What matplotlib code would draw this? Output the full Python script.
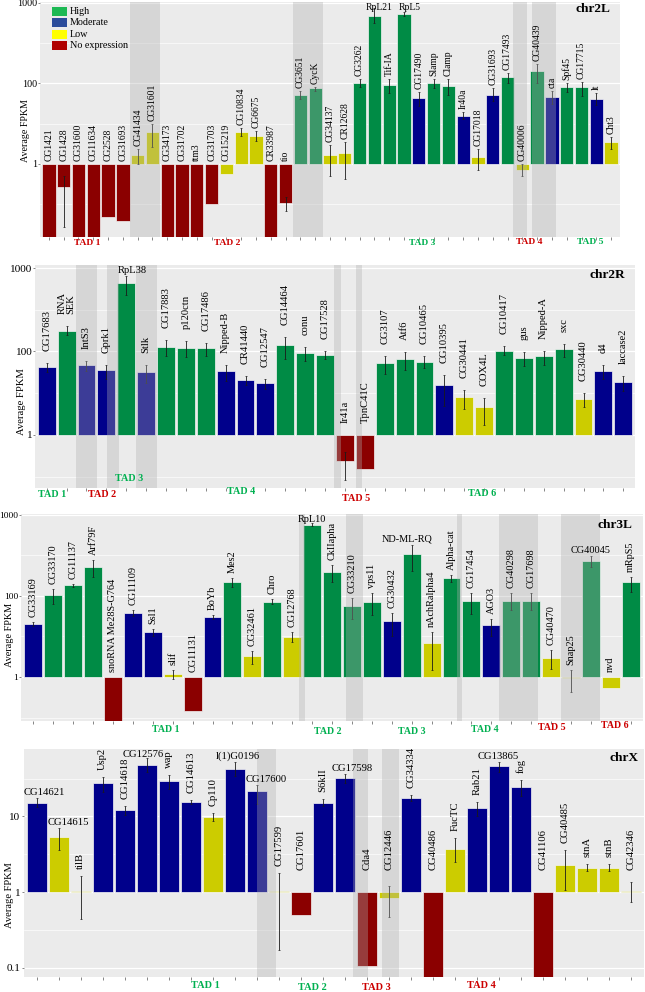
import numpy as np
import matplotlib
matplotlib.use("Agg")
import matplotlib.pyplot as plt
from matplotlib.patches import Rectangle
from matplotlib.transforms import blended_transform_factory

plt.rcParams['font.family'] = ['Liberation Serif', 'DejaVu Serif']

nan = np.nan

# ---------------- data ----------------
# chr2L / chr2R / chr3L heights are in axis units (tick "1" = 0, "100" = 1, "1000" = 2)
genes_2L = ["CG1421", "CG1428", "CG31600", "CG11634", "CG2528", "CG31693", "CG41434", "CG31601",
            "CG34173", "CG31702", "ttm3", "CG31703", "CG15219", "CG10834", "CG6675", "CR33987", "tio",
            "CG3651", "CycK", "CG34137", "CR12628", "CG3262", "RpL21", "Tif-IA", "RpL5", "CG17490",
            "Slamp", "Clamp", "Ir40a", "CG17018", "CG31693", "CG17493", "CG40006", "CG40439", "cta",
            "Spf45", "CG17715", "lt", "Cht3"]
level_2L = ["N", "N", "N", "N", "N", "N", "L", "L", "N", "N", "N", "N", "L", "L", "L", "N", "N",
            "H", "H", "L", "L", "H", "H", "H", "H", "M", "H", "H", "M", "L", "M", "H", "L", "H", "M",
            "H", "H", "M", "L"]
val_2L = [-1, -0.29, -1, -1, -0.66, -0.71, 0.11, 0.40, -1, -1, -1, -0.50, -0.12, 0.40, 0.35, -1, -0.48,
          0.86, 0.94, 0.11, 0.13, 1.01, 1.84, 0.98, 1.86, 0.82, 1.00, 0.97, 0.60, 0.08, 0.86, 1.08, -0.07,
          1.15, 0.83, 0.95, 0.95, 0.81, 0.27]
hi_2L = [nan, -0.15, nan, nan, nan, nan, 0.19, 0.50, nan, nan, nan, nan, nan, 0.45, 0.41, nan, -0.41,
         0.91, 0.96, 0.24, 0.27, 1.06, 1.94, 1.05, 1.89, 0.89, 1.05, 1.05, 0.65, 0.18, 0.94, 1.13, 0.0,
         1.24, 0.90, 1.00, 1.02, 0.88, 0.34]
lo_2L = [nan, -0.78, nan, nan, nan, nan, 0.0, 0.21, nan, nan, nan, nan, nan, 0.35, 0.29, nan, -0.59,
         0.81, 0.90, -0.15, -0.19, 0.95, 1.75, 0.88, 1.84, 0.72, 0.94, 0.86, 0.56, -0.08, 0.78, 1.01, -0.15,
         1.01, 0.75, 0.89, 0.84, 0.73, 0.19]

genes_2R = ["CG17683", "RNA\nSEK", "IntS3", "Gprk1", "RpL38", "Stlk", "CG17883", "p120ctn", "CG17486",
            "Nipped-B", "CR41440", "CG12547", "CG14464", "conu", "CG17528", "Ir41a", "TpnC41C", "CG3107",
            "Atf6", "CG10465", "CG10395", "CG30441", "COX4L", "CG10417", "gus", "Nipped-A", "sxc",
            "CG30440", "d4", "laccase2"]
level_2R = ["M", "H", "M", "M", "H", "M", "H", "H", "H", "M", "M", "M", "H", "H", "H", "N", "N", "H",
            "H", "H", "M", "L", "L", "H", "H", "H", "H", "L", "M", "M"]
val_2R = [0.81, 1.25, 0.84, 0.78, 1.82, 0.76, 1.05, 1.04, 1.04, 0.77, 0.66, 0.62, 1.08, 0.98, 0.96,
          -0.31, -0.41, 0.86, 0.91, 0.87, 0.60, 0.45, 0.34, 1.00, 0.92, 0.95, 1.03, 0.43, 0.77, 0.63]
hi_2R = [0.86, 1.31, 0.89, 0.84, 1.90, 0.84, 1.14, 1.12, 1.10, 0.84, 0.71, 0.67, 1.17, 1.05, 1.01,
         -0.20, nan, 0.95, 0.99, 0.95, 0.72, 0.54, 0.44, 1.06, 0.99, 1.01, 1.09, 0.50, 0.84, 0.71]
lo_2R = [0.75, 1.20, 0.77, 0.67, 1.68, 0.62, 0.95, 0.94, 0.95, 0.65, 0.60, 0.55, 0.91, 0.89, 0.91,
         -0.54, nan, 0.73, 0.78, 0.80, 0.35, 0.31, 0.12, 0.96, 0.83, 0.84, 0.93, 0.34, 0.67, 0.53]

genes_3L = ["CG33169", "CG33170", "CG11137", "Arf79F", "snoRNA Me28S-G764", "CG11109", "Ssl1", "slif",
            "CG11131", "BoYb", "Mes2", "CG32461", "Chro", "CG12768", "RpL10", "CkIIapha", "CG33210",
            "vps11", "CG30432", "ND-ML-RQ", "nAchRalpha4", "Alpha-cat", "CG17454", "AGO3", "CG40298",
            "CG17698", "CG40470", "Snap25", "CG40045", "nvd", "mRpS5"]
level_3L = ["M", "H", "H", "H", "N", "M", "M", "L", "N", "M", "H", "L", "H", "L", "H", "H", "H", "H",
            "M", "H", "L", "H", "H", "M", "H", "H", "L", "L", "H", "L", "H"]
val_3L = [0.65, 1.01, 1.13, 1.36, -1, 0.79, 0.56, 0.04, -0.42, 0.74, 1.17, 0.26, 0.93, 0.49, 1.88,
          1.30, 0.88, 0.93, 0.69, 1.52, 0.42, 1.22, 0.94, 0.64, 0.94, 0.94, 0.23, -0.012, 1.43, -0.14, 1.17]
hi_3L = [0.68, 1.09, 1.15, 1.44, nan, 0.83, 0.59, 0.09, nan, 0.76, 1.22, 0.32, 0.96, 0.55, 1.90,
         1.38, 0.98, 1.04, 0.79, 1.63, 0.55, 1.26, 1.04, 0.72, 1.03, 1.03, 0.33, 0.08, 1.49, nan, 1.23]
lo_3L = [0.63, 0.90, 1.11, 1.23, nan, 0.75, 0.50, -0.02, nan, 0.72, 1.11, 0.16, 0.90, 0.43, 1.86,
         1.17, 0.72, 0.77, 0.50, 1.31, 0.08, 1.17, 0.78, 0.50, 0.82, 0.82, 0.10, -0.19, 1.36, nan, 1.05]

# chrX values are Average FPKM (log10 axis)
genes_X = ["CG14621", "CG14615", "tilB", "Usp2", "CG14618", "CG12576", "wap", "CG14613", "Cp110",
           "l(1)G0196", "CG17600", "CG17599", "CG17601", "S6kII", "CG17598", "Cda4", "CG12446",
           "CG34334", "CG40486", "FucTC", "Rab21", "CG13865", "fog", "CG41106", "CG40485", "stnA",
           "stnB", "CG42346"]
level_X = ["M", "L", "L", "M", "M", "M", "M", "M", "L", "M", "M", "L", "N", "M", "M", "N", "L", "M",
           "N", "L", "M", "M", "M", "N", "L", "L", "L", "L"]
fpkm_X = [15.2, 5.3, 1.04, 27.5, 12.2, 48, 29.5, 15.7, 9.8, 42, 21.3, 1.02, 0.5, 15.2, 32, 0.104, 0.83,
          17.5, 0.05, 3.7, 12.9, 46.6, 24.4, 0.05, 2.3, 2.1, 2.1, 1.04]
hi_X = [17.5, 7.0, 1.64, 33, 13.8, 59, 35.5, 16.6, 11, 52, 26, 1.8, nan, 17, 36.6, nan, 1.21, 19.3,
        nan, 5.1, 15.7, 53, 30.4, nan, 3.6, 2.37, 2.37, 1.36]
lo_X = [13.1, 3.55, 0.44, 21, 10.5, 38, 23, 14.6, 8.8, 34.6, 14.7, 0.17, nan, 13.5, 27.5, nan, 0.47,
        15.8, nan, 2.5, 10.0, 38.5, 18.3, nan, 1.05, 1.87, 1.87, 0.74]

ytick_main = ["1", "100", "1000"]
ytick_x = ["0.1", "1", "10"]
legend_names = ["High", "Moderate", "Low", "No expression"]

# ---------------- styles ----------------
bar_col = {"H": "#008B45", "M": "#00008B", "L": "#CCCC00", "N": "#8B0000"}
legend_col = ["#1DB954", "#2B4C9B", "#FFFF00", "#B00000"]
RED, GREEN = "#CC0000", "#00B050"
# genes whose name is written horizontally, with a small sideways nudge (bar units)
horizontal = {"RpL21": 0.3, "RpL5": 0.4, "RpL38": 0.3, "RpL10": 0.0, "ND-ML-RQ": -0.25,
              "CG40045": 0.0, "CG14621": 0.35, "CG14615": 0.45, "CG12576": -0.15,
              "l(1)G0196": 0.15, "CG17600": 0.42, "CG17598": 0.33, "CG13865": 0.0}

W, H = 645, 992
fig = plt.figure(figsize=(W / 100, H / 100), dpi=100)


def fy(y):
    return 1 - y / H


panels = [
    dict(genes=genes_2L, level=level_2L, val=val_2L, hi=hi_2L, lo=lo_2L,
         box=(40, 2, 620, 237), ylim=(-0.907, 2.01), ticks=[0, 1, 2], tlab=ytick_main,
         fs=6.9, tfs=7.2, pad=3, minlab=None, name="chr2L", name_xy=(610, 9),
         ylab_xy=(26, 131), ylab_fs=7.2, tad_fs=6.8,
         bands=[(6.5, 8.5), (17.5, 19.5), (32.4, 33.3), (33.65, 35.3)],
         tads=[("TAD 1", 3.61, 243, RED), ("TAD 2", 13.04, 243, RED), ("TAD 3", 26.2, 243, GREEN),
               ("TAD 4", 33.47, 242, RED), ("TAD 5", 37.56, 242, GREEN)]),
    dict(genes=genes_2R, level=level_2R, val=val_2R, hi=hi_2R, lo=lo_2R,
         box=(34.8, 265, 635.2, 488), ylim=(-0.635, 2.036), ticks=[0, 1, 2], tlab=ytick_main,
         fs=7.6, tfs=8.2, pad=12, minlab=None, name="chr2R", name_xy=(625, 275),
         ylab_xy=(22, 402), ylab_fs=7.7, tad_fs=7.3,
         bands=[(2.47, 3.53), (4.04, 4.64), (5.5, 6.56), (15.45, 15.8), (16.56, 16.86)],
         tads=[("TAD 1", 1.25, 494, GREEN), ("TAD 2", 3.8, 494, RED), ("TAD 3", 5.14, 478, GREEN),
               ("TAD 4", 10.77, 492, GREEN), ("TAD 5", 16.56, 498, RED), ("TAD 6", 22.88, 493, GREEN)]),
    dict(genes=genes_3L, level=level_3L, val=val_3L, hi=hi_3L, lo=lo_3L,
         box=(21.4, 514, 642.6, 721), ylim=(-0.543, 2.01), ticks=[0, 1, 2], tlab=ytick_main,
         fs=7.4, tfs=6.8, pad=5, minlab=None, name="chr3L", name_xy=(632, 525),
         ylab_xy=(10, 635), ylab_fs=7.4, tad_fs=7.1,
         bands=[(14.34, 14.64), (16.7, 17.56), (22.28, 22.53), (24.39, 26.35), (27.5, 29.46)],
         tads=[("TAD 1", 7.66, 729, GREEN), ("TAD 2", 15.77, 731, GREEN), ("TAD 3", 20.02, 731, GREEN),
               ("TAD 4", 23.66, 729, GREEN), ("TAD 5", 27.03, 727, RED), ("TAD 6", 30.21, 725, RED)]),
    dict(genes=genes_X, level=level_X, val=np.log10(fpkm_X), hi=np.log10(hi_X), lo=np.log10(lo_X),
         box=(23.5, 749, 643.9, 977), ylim=(-1.123, 1.89), ticks=[-1, 0, 1], tlab=ytick_x,
         fs=7.7, tfs=8.0, pad=7, minlab=22, name="chrX", name_xy=(638, 758),
         ylab_xy=(10, 895), ylab_fs=7.6, tad_fs=7.5,
         bands=[(11.01, 11.88), (15.36, 16.05), (16.68, 17.48)],
         tads=[("TAD 1", 8.65, 986, GREEN), ("TAD 2", 13.54, 987, GREEN), ("TAD 3", 16.42, 987, RED),
               ("TAD 4", 21.21, 986, RED)]),
]

for p in panels:
    l, t, r, b = p["box"]
    ax = fig.add_axes([l / W, 1 - b / H, (r - l) / W, (b - t) / H])
    ax.set_facecolor("#EBEBEB")
    for s in ax.spines.values():
        s.set_visible(False)
    n = len(p["genes"])
    x = np.arange(1, n + 1)
    y0, y1 = p["ylim"]
    unit = (b - t) / (y1 - y0)  # pixels per axis unit

    minor = [v + 0.5 for v in [p["ticks"][0] - 1] + p["ticks"]]
    minor = [v for v in minor if y0 < v < y1]
    ax.set_yticks(p["ticks"])
    ax.set_yticklabels(p["tlab"], fontsize=p["tfs"])
    ax.set_yticks(minor, minor=True)
    ax.set_xticks(x)
    ax.set_xticklabels([])
    ax.tick_params(axis="both", which="major", length=1.8, width=0.5, color="#555555", pad=0.5)
    ax.tick_params(axis="y", which="minor", length=0)
    ax.grid(axis="y", which="major", color="white", lw=0.9, zorder=0)
    ax.grid(axis="y", which="minor", color="white", lw=0.45, zorder=0)
    ax.set_axisbelow(True)

    val = np.asarray(p["val"], float)
    hi = np.asarray(p["hi"], float)
    lo = np.asarray(p["lo"], float)
    cols = [bar_col[c] for c in p["level"]]
    ax.bar(x, val, width=0.9, color=cols, edgecolor="#F4F4F4", linewidth=0.5, zorder=2)
    m = ~np.isnan(hi)
    ax.errorbar(x[m], (hi[m] + lo[m]) / 2, yerr=(hi[m] - lo[m]) / 2, fmt="none",
                ecolor="#1A1A1A", elinewidth=0.6, capsize=1.0, capthick=0.5, zorder=3)

    for a, c in p["bands"]:
        ax.axvspan(a, c, color="#AFAFAF", alpha=0.35, lw=0, zorder=4)

    ax.set_xlim(0.4, n + 0.6)
    ax.set_ylim(y0, y1)

    for i, g in enumerate(p["genes"]):
        base = max(hi[i] if not np.isnan(hi[i]) else val[i], 0.0)
        if g in horizontal:
            # keep the name inside the panel when the bar reaches the top
            yl = min(base + 1 / unit, y1 - 10 / unit)
            ax.text(x[i] + horizontal[g], yl, g, ha="center", va="bottom",
                    fontsize=p["fs"], zorder=5)
        else:
            yl = base + p["pad"] / unit
            if p["minlab"] is not None:
                yl = max(yl, p["minlab"] / unit)
            ax.text(x[i], yl, g, rotation=90, ha="center", va="bottom", multialignment="left",
                    fontsize=p["fs"], linespacing=1.0, zorder=5)

    tr = blended_transform_factory(ax.transData, fig.transFigure)
    for txt, xpos, ypx, col in p["tads"]:
        ax.text(xpos, fy(ypx), txt, transform=tr, ha="center", va="center", color=col,
                fontsize=p["tad_fs"], fontweight="bold", clip_on=False, zorder=6)

    fig.text(p["name_xy"][0] / W, fy(p["name_xy"][1]), p["name"], ha="right", va="center",
             fontsize=9.6, fontweight="bold")
    fig.text(p["ylab_xy"][0] / W, fy(p["ylab_xy"][1]), "Average FPKM", rotation=90,
             ha="center", va="center", fontsize=p["ylab_fs"])

# legend of chr2L panel
for k, (name, col) in enumerate(zip(legend_names, legend_col)):
    top = 6.5 + k * 11.6
    fig.add_artist(Rectangle((52 / W, fy(top + 9)), 15 / W, 9 / H, transform=fig.transFigure,
                             facecolor=col, edgecolor="none"))
    fig.text(70 / W, fy(top + 4.5), name, ha="left", va="center", fontsize=7.3)

fig.savefig("out.png", dpi=100)
